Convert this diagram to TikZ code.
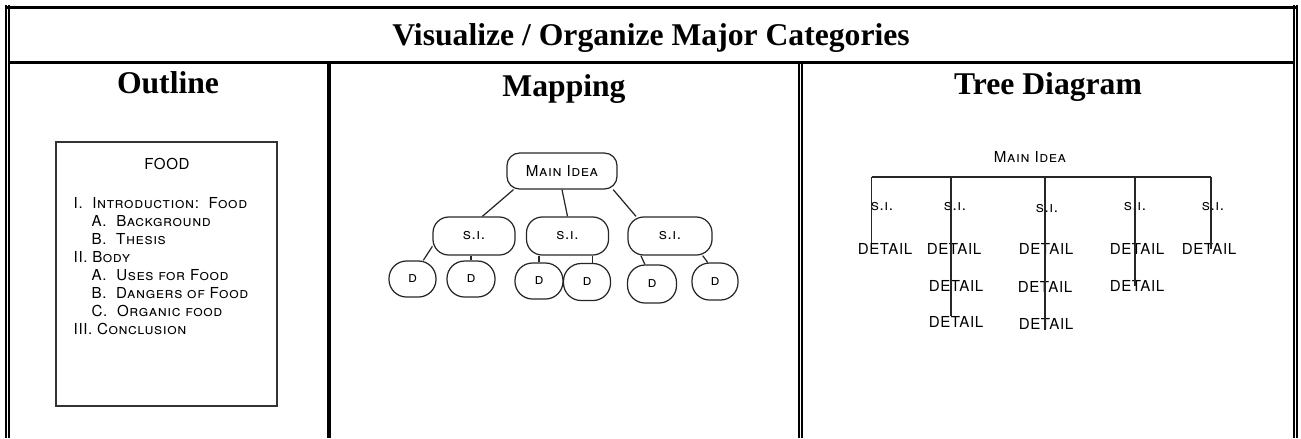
\documentclass[tikz,border=0pt]{standalone}
\usepackage{fontspec}
\setmainfont{Liberation Serif}
\newfontfamily\sketchfont[LetterSpace=4]{TeX Gyre Heros}
\begin{document}
\begin{tikzpicture}[x=0.01cm,y=-0.01cm,
    head/.style={font=\fontsize{9}{10}\selectfont\bfseries, inner sep=0pt, anchor=base},
    sketch/.style={font=\sketchfont\fontsize{4.3}{5}\selectfont, inner sep=0pt},
    item/.style={sketch, anchor=base west},
    bubble/.style={draw=black!85, line width=0.35pt, rounded corners=4.5pt, sketch},
    twig/.style={draw=black!85, line width=0.35pt},
    rule/.style={line width=0.5pt}]
  \useasboundingbox (0,0) rectangle (1301,438);

  % table frame
  \draw[rule] (6,5) -- (6,438);
  \draw[rule] (9.2,5) -- (9.2,438);
  \draw[rule] (1294,5) -- (1294,438);
  \draw[rule] (1297.2,5) -- (1297.2,438);
  \draw[line width=0.85pt] (5,7) -- (1298,7);
  \draw[line width=0.85pt] (9,62.5) -- (1294,62.5);
  \draw[line width=1.1pt] (329,62) -- (329,438);
  \draw[rule] (799,62) -- (799,438);
  \draw[rule] (802.2,62) -- (802.2,438);

  % headings
  \node[head] (title) at (651,45) {Visualize / Organize Major Categories};
  \node[head] (hout) at (168,93) {Outline};
  \node[head] (hmap) at (564,96) {Mapping};
  \node[head] (htree) at (1048,94) {Tree Diagram};

  % outline
  \draw[black!80, line width=0.4pt] (56,142) rectangle (277,406);
  \node[sketch] (food) at (167,164) {FOOD};
  \node[item] (o1) at (73,208.5) {\scshape I.\ \ Introduction:\ \ Food};
  \node[item] (o2) at (91,226.5) {\scshape A.\ \ Background};
  \node[item] (o3) at (91,244.5) {\scshape B.\ \ Thesis};
  \node[item] (o4) at (73,262.5) {\scshape II. Body};
  \node[item] (o5) at (91,280.5) {\scshape A.\ \ Uses for Food};
  \node[item] (o6) at (91,298.5) {\scshape B.\ \ Dangers of Food};
  \node[item] (o7) at (91,316.5) {\scshape C.\ \ Organic food};
  \node[item] (o8) at (73,334.5) {\scshape III. Conclusion};

  % mapping
  \node[bubble, rounded corners=3.6pt, minimum width=1.1cm, minimum height=0.36cm] (main) at (562,171) {\scshape Main Idea};
  \node[bubble, minimum width=0.82cm, minimum height=0.38cm] (si1) at (474,236) {\scshape s.i.};
  \node[bubble, minimum width=0.82cm, minimum height=0.38cm] (si2) at (567.5,236) {\scshape s.i.};
  \node[bubble, minimum width=0.84cm, minimum height=0.38cm] (si3) at (670,236) {\scshape s.i.};
  \node[bubble, rounded corners=5pt, minimum width=0.47cm, minimum height=0.36cm] (d1) at (412.5,279) {\scshape d};
  \node[bubble, rounded corners=5pt, minimum width=0.48cm, minimum height=0.36cm] (d2) at (471,279) {\scshape d};
  \node[bubble, rounded corners=5pt, minimum width=0.48cm, minimum height=0.36cm] (d3) at (539,281) {\scshape d};
  \node[bubble, rounded corners=5pt, minimum width=0.47cm, minimum height=0.37cm] (d4) at (587,282) {\scshape d};
  \node[bubble, rounded corners=5pt, minimum width=0.49cm, minimum height=0.38cm] (d5) at (652,284) {\scshape d};
  \node[bubble, rounded corners=5pt, minimum width=0.46cm, minimum height=0.37cm] (d6) at (715,281.5) {\scshape d};

  \draw[twig] (main.201) -- (si1.67);
  \draw[twig] (main.south) -- (si2.north);
  \draw[twig] (main.340) -- (si3.150);
  \draw[twig] (si1.194) -- (d1.60);
  \draw[twig] (d2.north) -- (d2.north |- si1.south);
  \draw[twig] (d3.north) -- (d3.north |- si2.south);
  \draw[twig] (d4.75) -- (d4.75 |- si2.south);
  \draw[twig] (si3.-146) -- (d5.110);
  \draw[twig] (si3.-31) -- (d6.111);

  % tree diagram
  \node[sketch] (tmain) at (1030,157) {\scshape Main Idea};
  \coordinate (b1) at (871.5,176.7);
  \coordinate (b2) at (951,176.7);
  \coordinate (b3) at (1045,176.7);
  \coordinate (b4) at (1135,176.7);
  \coordinate (b5) at (1211,176.7);
  \draw[twig, line width=0.45pt] (b1) -- (b5);

  \node[sketch] (t1) at (882,207) {\scshape s.i.};
  \node[sketch] (t2) at (955,207) {\scshape s.i.};
  \node[sketch] (t3) at (1047,209) {\scshape s.i.};
  \node[sketch] (t4) at (1135,207) {\scshape s.i.};
  \node[sketch] (t5) at (1213,207) {\scshape s.i.};

  \node[sketch] (t11) at (885,249) {DETAIL};
  \node[sketch] (t21) at (954,249) {DETAIL};
  \node[sketch] (t22) at (956,286) {DETAIL};
  \node[sketch] (t23) at (956,322) {DETAIL};
  \node[sketch] (t31) at (1046,249) {DETAIL};
  \node[sketch] (t32) at (1045,287) {DETAIL};
  \node[sketch] (t33) at (1046,324) {DETAIL};
  \node[sketch] (t41) at (1137,249) {DETAIL};
  \node[sketch] (t42) at (1137,286) {DETAIL};
  \node[sketch] (t51) at (1209,249) {DETAIL};

  \draw[twig] (b1) -- (b1 |- t11.north);
  \draw[twig] (b2) -- (b2 |- t23.north);
  \draw[twig] (b3) -- (b3 |- t33.south);
  \draw[twig] (b4) -- (b4 |- t42.center);
  \draw[twig] (b5) -- (b5 |- t51.center);
\end{tikzpicture}
\end{document}
